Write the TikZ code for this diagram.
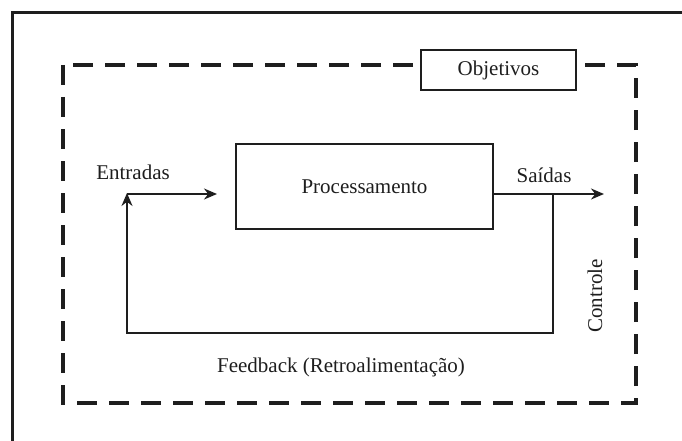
\documentclass[tikz,border=0pt]{standalone}
\usepackage{fontspec}
\setmainfont{Liberation Serif}
\usetikzlibrary{arrows.meta}
\definecolor{ink}{HTML}{1E1E1E}
\tikzset{
  box/.style={draw=ink, line width=2pt, fill=white, inner sep=0pt, font=\fontsize{21}{24}\selectfont, text=ink},
  lbl/.style={inner sep=0pt, font=\fontsize{21}{24}\selectfont, text=ink},
  conn/.style={draw=ink, line width=2pt},
  arr/.style={conn, -{Stealth[length=13pt,width=11pt]}},
  dashbox/.style={draw=ink, line width=4pt, dash pattern=on 20pt off 12pt},
  frame/.style={draw=ink, line width=3pt}
}
\begin{document}
\begin{tikzpicture}[x=1pt,y=-1pt]
\useasboundingbox[fill=white] (0,0) rectangle (682,441);
\clip (0,0) rectangle (682,441);
% outer frame (only top and left visible)
\coordinate (fA) at (12,460);
\coordinate (fB) at (12,13);
\coordinate (fC) at (700,13);
\draw[frame] (fA) -- (fB) -- (fC);
% dashed control boundary
\coordinate (dTL) at (63,65);
\coordinate (dBR) at (636,403);
\draw[dashbox] (dTL) rectangle (dBR);
% boxes
\node[box, minimum width=155pt, minimum height=40pt] (obj) at (498.5,70) {Objetivos};
\node[box, minimum width=257pt, minimum height=85pt] (proc) at (364.5,186.5) {Processamento};
% coordinates for connectors
\coordinate (inStart) at (127,194);
\coordinate (inEnd) at (217,194);
\coordinate (outEnd) at (604,194);
\coordinate (tap) at (553,194);
\coordinate (tapDown) at (553,333);
\coordinate (fbCorner) at (127,333);
\coordinate (fbEnd) at (127,193);
% connectors
\draw[arr] (inStart) -- (inEnd);
\draw[arr] (proc.east |- tap) -- (outEnd);
\draw[arr] (tap) -- (tapDown) -- (fbCorner) -- (fbEnd);
% labels
\node[lbl] (lin) at (133,172) {Entradas};
\node[lbl] (lout) at (544,175) {Saídas};
\node[lbl, rotate=90] (lctl) at (595,296) {Controle};
\node[lbl] (lfb) at (341,367) {Feedback (Retroalimentação)};
\end{tikzpicture}
\end{document}
